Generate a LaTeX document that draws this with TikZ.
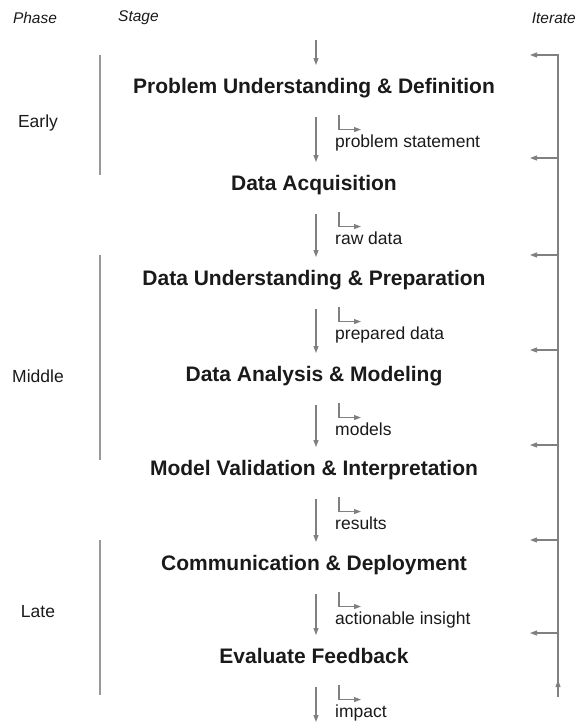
\documentclass[tikz,border=0pt]{standalone}
\usepackage{fontspec}
\setmainfont{Liberation Sans}
\usetikzlibrary{arrows.meta}

\definecolor{linegray}{HTML}{808080}
\definecolor{textgray}{HTML}{1A1A1A}

\tikzset{
  stage/.style={font=\fontsize{21}{24}\bfseries\selectfont, text=textgray,
    inner sep=0pt, text height=15pt, text depth=4.5pt},
  product/.style={font=\fontsize{17.5}{20}\selectfont, text=textgray,
    inner sep=0pt, anchor=west, text height=12.5pt, text depth=4pt},
  phase/.style={font=\fontsize{17.5}{20}\selectfont, text=textgray, inner sep=0pt},
  header/.style={font=\fontsize{15.5}{18}\itshape\selectfont, text=textgray, inner sep=0pt},
  flow/.style={draw=linegray, line width=1.1pt, -{Triangle[length=7pt,width=5pt]}},
  bar/.style={draw=linegray!80, line width=1.1pt}
}

\begin{document}
\begin{tikzpicture}[x=1pt, y=-1pt]
\useasboundingbox (0,0) rectangle (576,726);

% headers
\node[header] (hphase) at (35,18) {Phase};
\node[header, anchor=west] (hstage) at (118,18) {Stage};
\node[header, anchor=east] (hiter) at (576,18) {Iterate};

% phases
\node[phase] (early) at (38,123) {Early};
\node[phase] (middle) at (38,376) {Middle};
\node[phase] (late) at (38,612) {Late};
\draw[bar] (100,55) -- (100,175);
\draw[bar] (100,255) -- (100,460);
\draw[bar] (100,540) -- (100,695);

% stages and what comes out of them
\foreach \i/\y/\txt/\out in {
  1/88/Problem Understanding \& Definition/problem statement,
  2/185/Data Acquisition/raw data,
  3/280/Data Understanding \& Preparation/prepared data,
  4/376/Data Analysis \& Modeling/models,
  5/470/Model Validation \& Interpretation/results,
  6/565/Communication \& Deployment/actionable insight,
  7/658/Evaluate Feedback/impact}
{
  \node[stage] (s\i) at (314,\y) {\txt};
  \node[product] (p\i) at (335,\y+55) {\out};
  \draw[flow] ([shift={(4pt,20pt)}]p\i.north west) -- ([shift={(4pt,5pt)}]p\i.north west)
    -- ([shift={(26pt,5pt)}]p\i.north west);
}

% flow down the stages
\coordinate (start) at (316,40);
\coordinate (finish) at (316,722);
\draw[flow] (start) -- ([xshift=2pt,yshift=13pt]s1.north);
\foreach \i/\j in {1/2,2/3,3/4,4/5,5/6,6/7}
\draw[flow] ([xshift=2pt,yshift=-19.5pt]s\i.south) -- ([xshift=2pt,yshift=13pt]s\j.north);
\draw[flow] ([xshift=2pt,yshift=-19.5pt]s7.south) -- (finish);

% iterate loop
\coordinate (ibot) at (558,697);
\coordinate (itip) at (558,680);
\coordinate (itop) at (558,55);
\draw[flow] (ibot) -- (itip);
\draw[flow] (558,684) -- (itop) -- (530,55);
\foreach \y in {158,255,350,445,540,633}
\draw[flow] (558,\y) -- (530,\y);
\end{tikzpicture}
\end{document}
